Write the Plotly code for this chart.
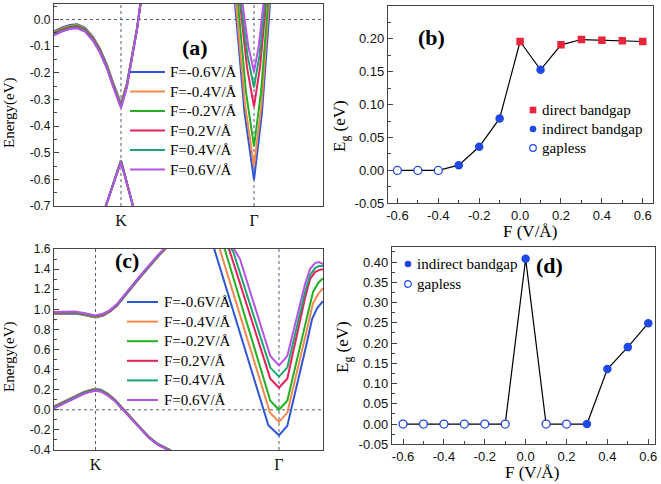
import plotly.graph_objects as go

# ---------------- common ----------------
FIELDS = ["F=-0.6V/Å", "F=-0.4V/Å", "F=-0.2V/Å", "F=0.2V/Å", "F=0.4V/Å", "F=0.6V/Å"]
COLORS = ["#2f55d8", "#f5884a", "#22b022", "#e8205a", "#1aa56e", "#b552e8"]

# ---------------- panel (a) band structure ----------------
A_K, A_G = 0.249, 0.7435
a_up_k = [0.000, 0.030, 0.059, 0.086, 0.115, 0.145, 0.171, 0.197, 0.219, 0.249, 0.271, 0.294, 0.309, 0.323]
a_up_E = [
    [-0.045, -0.030, -0.021, -0.018, -0.030, -0.065, -0.110, -0.170, -0.235, -0.315, -0.240, -0.115, -0.030, 0.070],
    [-0.048, -0.033, -0.024, -0.021, -0.033, -0.068, -0.113, -0.173, -0.238, -0.318, -0.243, -0.117, -0.031, 0.070],
    [-0.051, -0.036, -0.027, -0.024, -0.036, -0.071, -0.116, -0.176, -0.241, -0.322, -0.246, -0.119, -0.032, 0.070],
    [-0.054, -0.039, -0.030, -0.027, -0.039, -0.074, -0.119, -0.179, -0.244, -0.325, -0.249, -0.121, -0.033, 0.070],
    [-0.057, -0.042, -0.033, -0.030, -0.042, -0.077, -0.122, -0.182, -0.247, -0.329, -0.252, -0.123, -0.034, 0.070],
    [-0.060, -0.045, -0.036, -0.033, -0.045, -0.080, -0.125, -0.185, -0.250, -0.333, -0.255, -0.125, -0.035, 0.070],
]
a_low_k = [0.186, 0.249, 0.299]
a_low_E = [
    [-0.720, -0.528, -0.720],
    [-0.720, -0.529, -0.720],
    [-0.720, -0.530, -0.720],
    [-0.720, -0.532, -0.720],
    [-0.720, -0.533, -0.720],
    [-0.720, -0.535, -0.720],
]
a_gam_k = [
    [0.6729, 0.7082, 0.7435, 0.7732, 0.8030],
    [0.6766, 0.7100, 0.7435, 0.7714, 0.7993],
    [0.6840, 0.7138, 0.7435, 0.7695, 0.7955],
    [0.6915, 0.7175, 0.7435, 0.7658, 0.7881],
    [0.6952, 0.7193, 0.7435, 0.7639, 0.7844],
    [0.7007, 0.7221, 0.7435, 0.7612, 0.7788],
]
a_gam_E = [
    [0.06, -0.350, -0.602, -0.350, 0.06],
    [0.06, -0.319, -0.552, -0.319, 0.06],
    [0.06, -0.273, -0.477, -0.273, 0.06],
    [0.06, -0.180, -0.327, -0.180, 0.06],
    [0.06, -0.135, -0.255, -0.135, 0.06],
    [0.06, -0.099, -0.196, -0.099, 0.06],
]

# ---------------- panel (c) band structure ----------------
C_K, C_G = 0.1543, 0.8364
c_cb_k = [0.0, 0.0409, 0.0781, 0.1152, 0.1543, 0.1822, 0.2082, 0.2342, 0.2602, 0.2862, 0.3197, 0.3569, 0.3941, 0.4164]
c_cb_E = [
    [0.952, 0.957, 0.958, 0.940, 0.918, 0.936, 0.976, 1.036, 1.116, 1.206, 1.316, 1.436, 1.546, 1.606],
    [0.956, 0.961, 0.962, 0.944, 0.922, 0.940, 0.980, 1.040, 1.120, 1.210, 1.320, 1.440, 1.550, 1.610],
    [0.960, 0.965, 0.966, 0.948, 0.926, 0.944, 0.983, 1.043, 1.123, 1.213, 1.323, 1.443, 1.553, 1.613],
    [0.964, 0.969, 0.970, 0.952, 0.930, 0.948, 0.986, 1.046, 1.126, 1.216, 1.326, 1.446, 1.556, 1.616],
    [0.968, 0.973, 0.974, 0.956, 0.934, 0.952, 0.989, 1.049, 1.129, 1.219, 1.329, 1.449, 1.559, 1.619],
    [0.972, 0.977, 0.978, 0.960, 0.938, 0.956, 0.992, 1.052, 1.132, 1.222, 1.332, 1.452, 1.562, 1.622],
]
c_vb_k = [0.0, 0.0335, 0.0706, 0.1115, 0.1338, 0.1543, 0.1747, 0.2007, 0.2268, 0.2565, 0.2862, 0.3197, 0.3532, 0.3866, 0.4349]
c_vb_E = [
    [0.035, 0.080, 0.128, 0.178, 0.198, 0.210, 0.200, 0.160, 0.100, 0.010, -0.080, -0.175, -0.270, -0.340, -0.405],
    [0.031, 0.076, 0.124, 0.174, 0.194, 0.206, 0.196, 0.156, 0.097, 0.008, -0.082, -0.177, -0.272, -0.342, -0.407],
    [0.027, 0.072, 0.120, 0.170, 0.190, 0.202, 0.192, 0.152, 0.094, 0.006, -0.084, -0.179, -0.274, -0.344, -0.409],
    [0.023, 0.068, 0.116, 0.166, 0.186, 0.198, 0.188, 0.148, 0.091, 0.004, -0.086, -0.181, -0.276, -0.346, -0.411],
    [0.019, 0.064, 0.112, 0.162, 0.182, 0.194, 0.184, 0.144, 0.088, 0.002, -0.088, -0.183, -0.278, -0.348, -0.413],
    [0.015, 0.060, 0.108, 0.158, 0.178, 0.190, 0.180, 0.140, 0.085, 0.000, -0.090, -0.185, -0.280, -0.350, -0.415],
]
c_gam_k = [
    [0.5911, 0.7967, 0.8364, 0.8673, 0.9368, 0.9591, 0.9777, 1.0],
    [0.6115, 0.8030, 0.8364, 0.8673, 0.9368, 0.9628, 0.9814, 1.0],
    [0.6301, 0.8041, 0.8364, 0.8673, 0.9368, 0.9628, 0.9814, 1.0],
    [0.6320, 0.6506, 0.8041, 0.8364, 0.8673, 0.9331, 0.9517, 0.9703, 0.9851, 1.0],
    [0.6431, 0.6654, 0.8041, 0.8364, 0.8673, 0.9331, 0.9517, 0.9703, 0.9851, 1.0],
    [0.6506, 0.6691, 0.6914, 0.8041, 0.8364, 0.8673, 0.9331, 0.9517, 0.9703, 0.9851, 1.0],
]
c_gam_E = [
    [1.64, -0.153, -0.253, -0.16, 0.63, 0.90, 1.01, 1.08],
    [1.64, -0.03, -0.12, -0.03, 0.76, 1.06, 1.15, 1.21],
    [1.64, 0.09, 0.0, 0.09, 0.88, 1.17, 1.26, 1.31],
    [1.66, 1.60, 0.31, 0.22, 0.31, 1.11, 1.30, 1.37, 1.39, 1.40],
    [1.65, 1.58, 0.42, 0.33, 0.42, 1.17, 1.34, 1.41, 1.43, 1.43],
    [1.64, 1.60, 1.50, 0.535, 0.44, 0.535, 1.25, 1.40, 1.46, 1.47, 1.45],
]

# ---------------- panels (b) and (d): band gaps ----------------
F_vals = [-0.6, -0.5, -0.4, -0.3, -0.2, -0.1, 0.0, 0.1, 0.2, 0.3, 0.4, 0.5, 0.6]
b_Eg = [0.0, 0.0, 0.0, 0.008, 0.036, 0.079, 0.196, 0.153, 0.191, 0.199, 0.198, 0.197, 0.196]
b_type = ["gapless", "gapless", "gapless", "indirect", "indirect", "indirect", "direct",
          "indirect", "direct", "direct", "direct", "direct", "direct"]
d_Eg = [0.0, 0.0, 0.0, 0.0, 0.0, 0.0, 0.408, 0.0, 0.0, 0.0, 0.136, 0.190, 0.249]
d_type = ["gapless", "gapless", "gapless", "gapless", "gapless", "gapless", "indirect",
          "gapless", "gapless", "indirect", "indirect", "indirect", "indirect"]
GAP_LABELS = {"direct": "direct bandgap", "indirect": "indirect bandgap", "gapless": "gapless"}

# tick labels
a_yticks = [0.0, -0.1, -0.2, -0.3, -0.4, -0.5, -0.6, -0.7]
a_ylabels = ["0.0", "-0.1", "-0.2", "-0.3", "-0.4", "-0.5", "-0.6", "-0.7"]
c_yticks = [1.6, 1.4, 1.2, 1.0, 0.8, 0.6, 0.4, 0.2, 0.0, -0.2, -0.4]
c_ylabels = ["1.6", "1.4", "1.2", "1.0", "0.8", "0.6", "0.4", "0.2", "0.0", "-0.2", "-0.4"]
bd_yticks = [0.25, 0.20, 0.15, 0.10, 0.05, 0.00, -0.05]
bd_ylabels = ["0.25", "0.20", "0.15", "0.10", "0.05", "0.00", "-0.05"]
d_yticks = [0.40, 0.35, 0.30, 0.25, 0.20, 0.15, 0.10, 0.05, 0.00, -0.05]
d_ylabels = ["0.40", "0.35", "0.30", "0.25", "0.20", "0.15", "0.10", "0.05", "0.00", "-0.05"]
F_ticks = [-0.6, -0.4, -0.2, 0.0, 0.2, 0.4, 0.6]
F_labels = ["-0.6", "-0.4", "-0.2", "0.0", "0.2", "0.4", "0.6"]
kpath_labels = ["K", "Γ"]

SERIF = "Liberation Serif"
SANS = "Liberation Sans"
AXC = "#444444"
BLUE = "#1f48e6"
RED = "#e8253a"
W, H = 661, 484


def px_x(p):
    return p / W


def px_y(p):
    return 1 - p / H


fig = go.Figure()

# band traces
for i, name in enumerate(FIELDS):
    xa = a_up_k + [None] + a_low_k + [None] + a_gam_k[i]
    ya = a_up_E[i] + [None] + a_low_E[i] + [None] + a_gam_E[i]
    fig.add_trace(go.Scatter(x=xa, y=ya, mode="lines", name=name, line=dict(color=COLORS[i], width=2),
                             xaxis="x", yaxis="y", showlegend=False, connectgaps=False))
for i, name in enumerate(FIELDS):
    xc = c_cb_k + [None] + c_vb_k + [None] + c_gam_k[i]
    yc = c_cb_E[i] + [None] + c_vb_E[i] + [None] + c_gam_E[i]
    fig.add_trace(go.Scatter(x=xc, y=yc, mode="lines", name=name, line=dict(color=COLORS[i], width=2),
                             xaxis="x3", yaxis="y3", showlegend=False, connectgaps=False))

MARK = {
    "direct": dict(symbol="square", size=7.5, color=RED, line=dict(width=0)),
    "indirect": dict(symbol="circle", size=8.5, color=BLUE, line=dict(width=0)),
    "gapless": dict(symbol="circle", size=8, color="white", line=dict(color=BLUE, width=1.3)),
}


def gap_traces(Eg, types, xa, ya, kinds):
    fig.add_trace(go.Scatter(x=F_vals, y=Eg, mode="lines", line=dict(color="black", width=1.2),
                             showlegend=False, xaxis=xa, yaxis=ya))
    for k in kinds:
        xs = [f for f, t in zip(F_vals, types) if t == k]
        ys = [e for e, t in zip(Eg, types) if t == k]
        fig.add_trace(go.Scatter(x=xs, y=ys, mode="markers", name=GAP_LABELS[k], marker=MARK[k],
                                 xaxis=xa, yaxis=ya, showlegend=False))


gap_traces(b_Eg, b_type, "x2", "y2", ["direct", "indirect", "gapless"])
gap_traces(d_Eg, d_type, "x4", "y4", ["indirect", "gapless"])

common = dict(showline=True, mirror=True, linecolor=AXC, linewidth=1.4, showgrid=False, zeroline=False,
              tickfont=dict(family=SANS, size=13, color="#111"))
band_x = dict(common, range=[0, 1], tickmode="array", ticks="",
              tickfont=dict(family=SERIF, size=16, color="#111"))
band_y_font = dict(family=SANS, size=12, color="#111")


def minor(d):
    return dict(tickmode="linear", tick0=0, dtick=d, ticks="inside", ticklen=3, tickcolor=AXC)


fig.update_layout(
    width=W, height=H, margin=dict(l=0, r=0, t=0, b=0, autoexpand=False),
    paper_bgcolor="white", plot_bgcolor="white", showlegend=False,
    xaxis=dict(band_x, domain=[px_x(54), px_x(323)], anchor="y", tickvals=[A_K, A_G], ticktext=kpath_labels),
    yaxis=dict(common, domain=[px_y(206), px_y(3.5)], anchor="x", range=[-0.7, 0.06], tickfont=band_y_font,
               tickmode="array", tickvals=a_yticks, ticktext=a_ylabels, ticks="inside", ticklen=5,
               tickcolor=AXC, minor=minor(0.05)),
    xaxis3=dict(band_x, domain=[px_x(54), px_x(323)], anchor="y3", tickvals=[C_K, C_G], ticktext=kpath_labels),
    yaxis3=dict(common, domain=[px_y(450), px_y(249)], anchor="x3", range=[-0.4, 1.6], tickfont=band_y_font,
                tickmode="array", tickvals=c_yticks, ticktext=c_ylabels, ticks="inside", ticklen=5,
                tickcolor=AXC, minor=minor(0.1)),
    xaxis2=dict(common, domain=[px_x(388), px_x(653)], anchor="y2", range=[-0.646, 0.65],
                tickmode="array", tickvals=F_ticks, ticktext=F_labels, ticks="inside", ticklen=5, tickcolor=AXC,
                minor=minor(0.1)),
    yaxis2=dict(common, domain=[px_y(203.3), px_y(6)], anchor="x2", range=[-0.05, 0.25],
                tickmode="array", tickvals=bd_yticks, ticktext=bd_ylabels, ticks="inside", ticklen=5,
                tickcolor=AXC, minor=minor(0.025)),
    xaxis4=dict(common, domain=[px_x(392), px_x(655)], anchor="y4", range=[-0.654, 0.633],
                tickmode="array", tickvals=F_ticks, ticktext=F_labels, ticks="inside", ticklen=5, tickcolor=AXC,
                minor=minor(0.1)),
    yaxis4=dict(common, domain=[px_y(444.3), px_y(246.7)], anchor="x4", range=[-0.05, 0.438],
                tickmode="array", tickvals=d_yticks, ticktext=d_ylabels, ticks="inside", ticklen=5,
                tickcolor=AXC, minor=minor(0.025)),
)

shapes = []
ann = []

# reference dotted lines at high-symmetry points and E = 0
for xa, ya, kk, gg in [("x", "y", A_K, A_G), ("x3", "y3", C_K, C_G)]:
    ln = dict(color="#50607a", width=1, dash="dot")
    shapes.append(dict(type="line", xref=xa, yref=ya + " domain", x0=kk, x1=kk, y0=0, y1=1, line=ln, layer="below"))
    shapes.append(dict(type="line", xref=xa, yref=ya + " domain", x0=gg, x1=gg, y0=0, y1=1, line=ln, layer="below"))
    shapes.append(dict(type="line", xref=xa + " domain", yref=ya, x0=0, x1=1, y0=0, y1=0, line=ln, layer="below"))

# legends of the band panels (line sample + label)
for (lx0, lx1, tx, y0, dy) in [(130, 165, 168, 72, 19.5), (127, 158, 162, 302, 19.6)]:
    for i, name in enumerate(FIELDS):
        yy = px_y(y0 + i * dy)
        shapes.append(dict(type="line", xref="paper", yref="paper", x0=px_x(lx0), x1=px_x(lx1), y0=yy, y1=yy,
                           line=dict(color=COLORS[i], width=2)))
        ann.append(dict(text=name, x=px_x(tx), y=yy, xref="paper", yref="paper", showarrow=False,
                        xanchor="left", yanchor="middle", font=dict(family=SERIF, size=15, color="black")))

# legends of the band-gap panels (marker sample + label)
for kinds, mx, tx, rows in [(["direct", "indirect", "gapless"], 533, 540, [110, 129, 148]),
                            (["indirect", "gapless"], 408, 415, [264, 284])]:
    for k, ry in zip(kinds, rows):
        r = 3.3
        shp = dict(xref="paper", yref="paper", xsizemode="pixel", ysizemode="pixel",
                   xanchor=px_x(mx), yanchor=px_y(ry), x0=-r, x1=r, y0=-r, y1=r)
        if k == "direct":
            shp.update(type="rect", fillcolor=RED, line=dict(width=0))
        elif k == "indirect":
            shp.update(type="circle", fillcolor=BLUE, line=dict(width=0))
        else:
            shp.update(type="circle", fillcolor="white", line=dict(color=BLUE, width=1.2))
        shapes.append(shp)
        ann.append(dict(text=GAP_LABELS[k], x=px_x(tx), y=px_y(ry), xref="paper", yref="paper", showarrow=False,
                        xanchor="left", yanchor="middle", font=dict(family=SERIF, size=15, color="black")))

for txt, x, y in [("(a)", 180, 33), ("(b)", 432, 23), ("(c)", 113, 260), ("(d)", 565, 265)]:
    ann.append(dict(text="<b>%s</b>" % txt, x=px_x(x), y=px_y(y), xref="paper", yref="paper", showarrow=False,
                    font=dict(family=SERIF, size=22, color="black")))
for txt, x, y, ang, sz in [("Energy(eV)", 9, 113, -90, 15), ("Energy(eV)", 9, 357, -90, 15),
                           ("E<sub>g</sub> (eV)", 341, 126, -90, 17), ("E<sub>g</sub> (eV)", 344, 347, -90, 17),
                           ("F (V/Å)", 530, 232, 0, 17), ("F (V/Å)", 532, 472, 0, 17)]:
    ann.append(dict(text=txt, x=px_x(x), y=px_y(y), xref="paper", yref="paper", showarrow=False, textangle=ang,
                    font=dict(family=SERIF, size=sz, color="black"), xanchor="center", yanchor="middle"))

fig.update_layout(shapes=shapes, annotations=ann)
fig.write_html("out.html", config={"displayModeBar": False},
               post_script="document.body.style.margin='0';document.body.style.overflow='hidden';")
